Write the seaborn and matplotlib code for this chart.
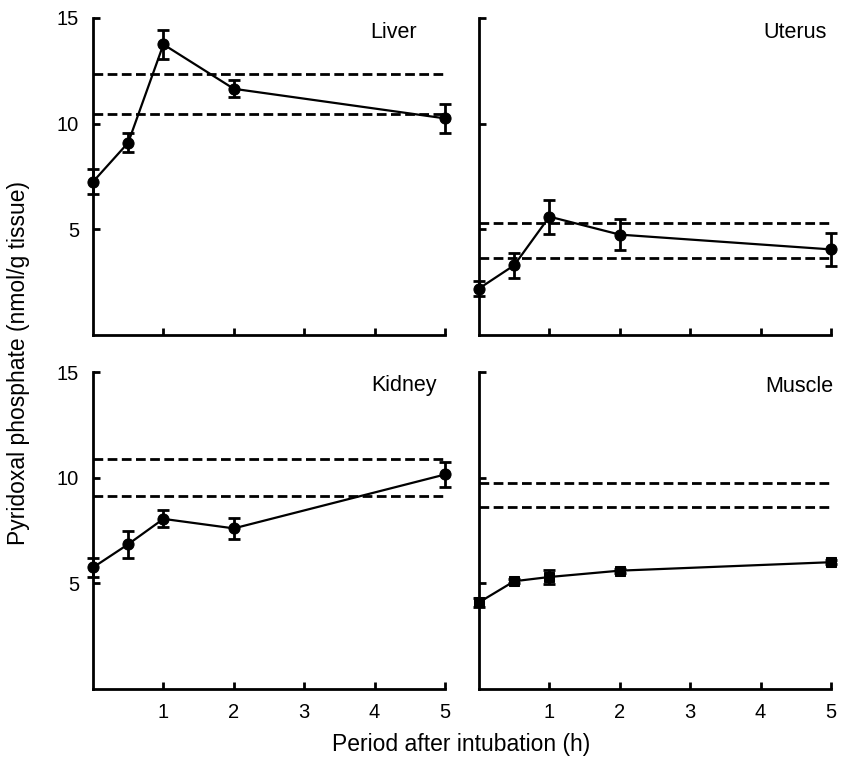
import matplotlib
matplotlib.use("Agg")
import matplotlib.pyplot as plt
import seaborn as sns
import pandas as pd

sns.set_theme(style="ticks")
plt.rcParams['font.family'] = ['Liberation Sans', 'DejaVu Sans']

hours = [0, 0.5, 1, 2, 5]

liver = [7.25, 9.1, 13.75, 11.65, 10.25]
liver_err = [0.6, 0.45, 0.7, 0.4, 0.7]
liver_ref = [12.35, 10.45]

uterus = [2.2, 3.3, 5.6, 4.75, 4.05]
uterus_err = [0.35, 0.6, 0.8, 0.73, 0.8]
uterus_ref = [5.3, 3.63]

kidney = [5.75, 6.85, 8.05, 7.6, 10.15]
kidney_err = [0.45, 0.65, 0.4, 0.5, 0.6]
kidney_ref = [10.9, 9.15]

muscle = [4.1, 5.1, 5.3, 5.6, 6.0]
muscle_err = [0.2, 0.1, 0.33, 0.1, 0.1]
muscle_ref = [9.75, 8.6]

panel_names = ["Liver", "Uterus", "Kidney", "Muscle"]
panels = [
    (liver, liver_err, liver_ref, "o"),
    (uterus, uterus_err, uterus_ref, "o"),
    (kidney, kidney_err, kidney_ref, "o"),
    (muscle, muscle_err, muscle_ref, "s"),
]

x_ticks = [1, 2, 3, 4, 5]
y_ticks = [5, 10, 15]

fig = plt.figure(figsize=(8.43, 7.65), dpi=100)
W, H = 843, 765
positions = [(93, 18), (479, 18), (93, 372), (479, 372)]
aw, ah = 352, 317
# title anchor (right edge x, center y) in pixels
title_pos = [(417, 32), (827, 32), (437, 385), (833, 386)]

for i, (vals, errs, refs, mk) in enumerate(panels):
    px, py = positions[i]
    ax = fig.add_axes([px / W, 1 - (py + ah) / H, aw / W, ah / H])
    df = pd.DataFrame({"h": hours, "v": vals})
    for r in refs:
        ax.plot([0, 5], [r, r], ls=(0, (3.5, 1.6)), color="black", lw=2, clip_on=False)
    ax.errorbar(hours, vals, yerr=errs, fmt="none", ecolor="black",
                elinewidth=2, capsize=4, capthick=2, clip_on=False)
    sns.lineplot(data=df, x="h", y="v", ax=ax, color="black", lw=1.6,
                 marker=mk, markersize=8 if mk == "o" else 7,
                 markeredgecolor="black", markerfacecolor="black", clip_on=False)
    ax.set_xlim(0, 5)
    ax.set_ylim(0, 15)
    ax.set_xticks(x_ticks)
    ax.set_yticks(y_ticks)
    ax.tick_params(direction="in", length=5, width=2, color="black",
                   labelsize=14.5, labelcolor="black")
    ax.tick_params(axis="x", pad=10)
    ax.tick_params(axis="y", pad=10)
    if i in (1, 3):
        ax.set_yticklabels([])
    if i in (0, 1):
        ax.set_xticklabels([])
    ax.set_xlabel("")
    ax.set_ylabel("")
    for s in ("top", "right"):
        ax.spines[s].set_visible(False)
    for s in ("left", "bottom"):
        ax.spines[s].set_linewidth(2)
        ax.spines[s].set_color("black")
    ax.set_facecolor("white")
    tx, ty = title_pos[i]
    fig.text(tx / W, 1 - ty / H, panel_names[i], ha="right", va="center",
             fontsize=15.5, color="black")

fig.text(19 / W, 1 - 363 / H, "Pyridoxal phosphate (nmol/g tissue)", rotation=90,
         ha="center", va="center", fontsize=16.5, color="black")
fig.text(461 / W, 1 - 744 / H, "Period after intubation (h)", ha="center",
         va="center", fontsize=16.5, color="black")

fig.savefig("out.png", dpi=100, facecolor="white")
